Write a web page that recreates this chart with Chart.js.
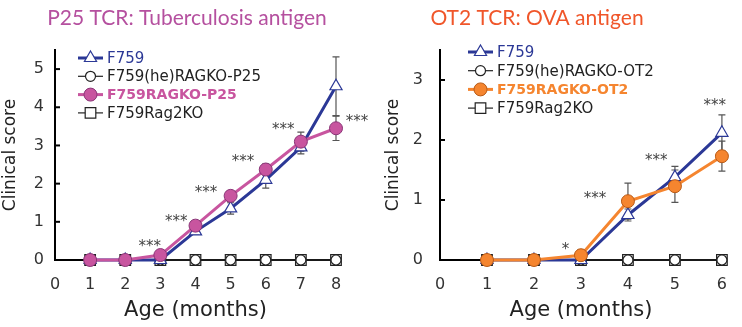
<!DOCTYPE html>
<html>
<head>
<meta charset="utf-8">
<script src="https://cdn.jsdelivr.net/npm/chart.js@4.4.0/dist/chart.umd.min.js"></script>
<style>
  body { margin: 0; background: #fff; }
  .panel { position: absolute; top: 0; width: 371px; height: 327px; }
</style>
</head>
<body>
<div class="panel" style="left:0"><canvas id="p25"></canvas></div>
<div class="panel" style="left:371px"><canvas id="ot2"></canvas></div>
<script>
// ---- P25 TCR panel ----
var months1 = [1, 2, 3, 4, 5, 6, 7, 8];
var f759_1 = [0, 0, 0, 0.75, 1.35, 2.1, 2.95, 4.55];
var f759Err1 = [0, 0, 0, 0.08, 0.15, 0.22, 0.17, 0.77];
var heRagko1 = [0, 0, 0, 0, 0, 0, 0, 0];
var ragko1 = [0, 0, 0.13, 0.9, 1.68, 2.37, 3.1, 3.45];
var ragkoErr1 = [0, 0, 0.05, 0.08, 0.1, 0.15, 0.25, 0.32];
var rag2ko1 = [0, 0, 0, 0, 0, 0, 0, 0];
var starX1 = [2.7, 3.45, 4.3, 5.35, 6.5, 8.6];
var starY1 = [0.42, 1.08, 1.82, 2.63, 3.47, 3.68];
var starTxt1 = ['***', '***', '***', '***', '***', '***'];

// ---- OT2 TCR panel ----
var months2 = [1, 2, 3, 4, 5, 6];
var f759_2 = [0, 0, 0, 0.75, 1.38, 2.12];
var f759Err2 = [0, 0, 0, 0.1, 0.18, 0.3];
var heRagko2 = [0, 0, 0, 0, 0, 0];
var ragko2 = [0, 0, 0.08, 0.98, 1.23, 1.73];
var ragkoErr2 = [0, 0, 0.09, 0.3, 0.27, 0.25];
var rag2ko2 = [0, 0, 0, 0, 0, 0];
var starX2 = [2.67, 3.3, 4.6, 5.85];
var starY2 = [0.22, 1.07, 1.7, 2.62];
var starTxt2 = ['*', '***', '***', '***'];

var BLUE = '#2b3896';
var AXIS_FONT = 'DejaVu Sans';

function pts(xs, ys) {
    return xs.map(function (x, i) { return { x: x, y: ys[i] }; });
}

function drawMarker(ctx, style, x, y, r, fill, stroke, lw) {
    ctx.save();
    ctx.fillStyle = fill;
    ctx.strokeStyle = stroke;
    ctx.lineWidth = lw;
    ctx.beginPath();
    if (style === 'triangle') {
        ctx.moveTo(x, y - r);
        ctx.lineTo(x + r * 0.866, y + r * 0.5);
        ctx.lineTo(x - r * 0.866, y + r * 0.5);
        ctx.closePath();
    } else if (style === 'rect') {
        var s = r * Math.SQRT1_2;
        ctx.rect(x - s, y - s, 2 * s, 2 * s);
    } else {
        ctx.arc(x, y, r, 0, Math.PI * 2);
    }
    ctx.fill();
    ctx.stroke();
    ctx.restore();
}

var extras = {
    id: 'extras',
    beforeDatasetsDraw: function (chart) {
        // error bars
        var ctx = chart.ctx, xs = chart.scales.x, ys = chart.scales.y;
        ctx.save();
        ctx.strokeStyle = '#555';
        ctx.lineWidth = 1.2;
        chart.data.datasets.forEach(function (ds) {
            if (!ds.errors) return;
            ds.data.forEach(function (p, i) {
                var e = ds.errors[i];
                if (!e) return;
                var x = xs.getPixelForValue(p.x);
                var y1 = ys.getPixelForValue(p.y + e);
                var y2 = ys.getPixelForValue(p.y - e);
                ctx.beginPath();
                ctx.moveTo(x, y1); ctx.lineTo(x, y2);
                ctx.moveTo(x - 3.5, y1); ctx.lineTo(x + 3.5, y1);
                ctx.moveTo(x - 3.5, y2); ctx.lineTo(x + 3.5, y2);
                ctx.stroke();
            });
        });
        ctx.restore();
    },
    afterDraw: function (chart, args, opts) {
        var ctx = chart.ctx, xs = chart.scales.x, ys = chart.scales.y;
        ctx.save();

        // title
        ctx.font = '21px Lato';
        ctx.fillStyle = opts.titleColor;
        ctx.textAlign = 'center';
        ctx.textBaseline = 'middle';
        ctx.fillText(opts.title, opts.titleX, 18);

        // inward y ticks
        ctx.strokeStyle = '#000';
        ctx.lineWidth = 2;
        ys.ticks.forEach(function (t) {
            var y = ys.getPixelForValue(t.value);
            if (t.value === 0) return;
            ctx.beginPath();
            ctx.moveTo(chart.chartArea.left, y);
            ctx.lineTo(chart.chartArea.left + 5, y);
            ctx.stroke();
        });

        // significance stars
        ctx.font = '15px "DejaVu Sans"';
        ctx.fillStyle = '#444';
        ctx.textBaseline = 'middle';
        opts.starX.forEach(function (sx, i) {
            ctx.fillText(opts.starTxt[i], xs.getPixelForValue(sx), ys.getPixelForValue(opts.starY[i]) + 3);
        });

        // legend
        var items = chart.data.datasets.slice().sort(function (a, b) { return a.legendRank - b.legendRank; });
        items.forEach(function (ds, i) {
            var y = opts.legendY + i * opts.legendStep;
            var x0 = opts.legendX, x1 = opts.legendX + 25;
            ctx.strokeStyle = ds.borderColor;
            ctx.lineWidth = ds.borderWidth;
            ctx.beginPath();
            ctx.moveTo(x0, y); ctx.lineTo(x1, y);
            ctx.stroke();
            drawMarker(ctx, ds.pointStyle, (x0 + x1) / 2, y, ds.pointRadius,
                ds.pointBackgroundColor, ds.pointBorderColor, ds.pointBorderWidth);
            ctx.font = (ds.legendBold ? 'bold 14px ' : '15px ') + '"DejaVu Sans"';
            ctx.fillStyle = ds.legendColor;
            ctx.textAlign = 'left';
            ctx.textBaseline = 'middle';
            ctx.fillText(ds.label, x1 + 4, y + 1);
        });
        ctx.restore();
    }
};

function makeChart(id, p) {
    var ctx = document.getElementById(id);
    return new Chart(ctx, {
        type: 'scatter',
        data: {
            datasets: [
                {
                    label: p.ragkoLabel, data: pts(p.months, p.ragko), errors: p.ragkoErr,
                    showLine: true, borderColor: p.color, borderWidth: 3,
                    pointStyle: 'circle', pointRadius: 6.5, pointBackgroundColor: p.color,
                    pointBorderColor: p.edge, pointBorderWidth: 1,
                    legendRank: 2, legendColor: p.color, legendBold: true, clip: false
                },
                {
                    label: 'F759', data: pts(p.months, p.f759), errors: p.f759Err,
                    showLine: true, borderColor: BLUE, borderWidth: 3,
                    pointStyle: 'triangle', pointRadius: 7, pointBackgroundColor: '#fff',
                    pointBorderColor: BLUE, pointBorderWidth: 1.2,
                    legendRank: 0, legendColor: BLUE, clip: false
                },
                {
                    label: p.heLabel, data: pts(p.months, p.he),
                    showLine: true, borderColor: '#222', borderWidth: 1.2,
                    pointStyle: 'circle', pointRadius: 5, pointBackgroundColor: '#fff',
                    pointBorderColor: '#222', pointBorderWidth: 1.2,
                    legendRank: 1, legendColor: '#222', clip: false
                },
                {
                    label: 'F759Rag2KO', data: pts(p.months, p.rag2ko),
                    showLine: true, borderColor: '#222', borderWidth: 1.2,
                    pointStyle: 'rect', pointRadius: 7.5, pointBackgroundColor: '#fff',
                    pointBorderColor: '#222', pointBorderWidth: 1.2,
                    legendRank: 3, legendColor: '#222', clip: false
                }
            ]
        },
        options: {
            responsive: true,
            maintainAspectRatio: false,
            animation: false,
            layout: { padding: { top: 50, left: p.padLeft, right: p.padRight, bottom: 4 } },
            plugins: {
                legend: { display: false },
                tooltip: { enabled: false },
                extras: {
                    title: p.title, titleColor: p.titleColor, titleX: p.titleX,
                    legendX: p.legendX, legendY: p.legendY, legendStep: p.legendStep,
                    starX: p.starX, starY: p.starY, starTxt: p.starTxt
                }
            },
            scales: {
                x: {
                    type: 'linear', min: 0, max: p.xMax,
                    ticks: { stepSize: 1, padding: 15, color: '#333', font: { family: AXIS_FONT, size: 16 } },
                    grid: { drawOnChartArea: false, drawTicks: false },
                    border: { color: '#000', width: 2 },
                    title: { display: true, text: 'Age (months)', color: '#222',
                        font: { family: AXIS_FONT, size: 21 }, padding: 0 },
                    afterFit: function (s) { s.height = 63; }
                },
                y: {
                    type: 'linear', min: 0, max: p.yMax,
                    ticks: { stepSize: 1, padding: p.tickPad, color: '#333', font: { family: AXIS_FONT, size: 16 } },
                    afterBuildTicks: function (s) {
                        s.ticks = s.ticks.filter(function (t) { return Number.isInteger(t.value); });
                    },
                    grid: { drawOnChartArea: false, drawTicks: false },
                    border: { color: '#000', width: 2 },
                    title: { display: true, text: 'Clinical score', color: '#222',
                        font: { family: AXIS_FONT, size: 17 }, padding: 0 },
                    afterFit: function (s) { s.width = p.yWidth; }
                }
            }
        },
        plugins: [extras]
    });
}

makeChart('p25', {
    months: months1, f759: f759_1, f759Err: f759Err1, he: heRagko1,
    ragko: ragko1, ragkoErr: ragkoErr1, rag2ko: rag2ko1,
    ragkoLabel: 'F759RAGKO-P25', heLabel: 'F759(he)RAGKO-P25',
    color: '#c8559f', edge: '#8a3577',
    title: 'P25 TCR: Tuberculosis antigen', titleColor: '#b5509f', titleX: 187,
    xMax: 8, yMax: 5.5, padLeft: 0, padRight: 35, yWidth: 55, tickPad: 11,
    legendX: 78, legendY: 58, legendStep: 18.3,
    starX: starX1, starY: starY1, starTxt: starTxt1
});

makeChart('ot2', {
    months: months2, f759: f759_2, f759Err: f759Err2, he: heRagko2,
    ragko: ragko2, ragkoErr: ragkoErr2, rag2ko: rag2ko2,
    ragkoLabel: 'F759RAGKO-OT2', heLabel: 'F759(he)RAGKO-OT2',
    color: '#f5852f', edge: '#b85a16',
    title: 'OT2 TCR: OVA antigen', titleColor: '#f0562a', titleX: 166,
    xMax: 6, yMax: 3.5, padLeft: 12, padRight: 16, yWidth: 57, tickPad: 17,
    legendX: 97, legendY: 52, legendStep: 18.7,
    starX: starX2, starY: starY2, starTxt: starTxt2
});
</script>
</body>
</html>
